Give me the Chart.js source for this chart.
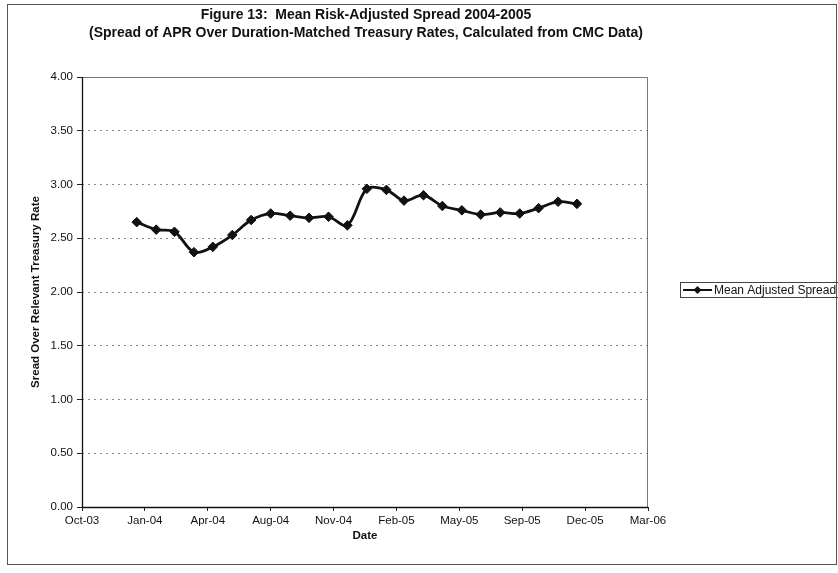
<!DOCTYPE html>
<html>
<head>
<meta charset="utf-8">
<script src="https://cdn.jsdelivr.net/npm/chart.js@4.4.1/dist/chart.umd.min.js"></script>
<style>
  html, body { margin: 0; padding: 0; background: #fff; }
  #wrap { position: relative; width: 838px; height: 573px; }
</style>
</head>
<body>
<div id="wrap"><canvas id="spreadChart" width="838" height="573"></canvas></div>
<script>
// Figure 13: mean risk-adjusted spread, one point per month 2004-2005
const months = ['2004-01', '2004-02', '2004-03', '2004-04', '2004-05', '2004-06',
                '2004-07', '2004-08', '2004-09', '2004-10', '2004-11', '2004-12',
                '2005-01', '2005-02', '2005-03', '2005-04', '2005-05', '2005-06',
                '2005-07', '2005-08', '2005-09', '2005-10', '2005-11', '2005-12'];
const meanSpread = [2.65, 2.58, 2.56, 2.37, 2.42, 2.53, 2.67, 2.73, 2.71, 2.69, 2.70, 2.62,
                    2.96, 2.95, 2.85, 2.90, 2.80, 2.76, 2.72, 2.74, 2.73, 2.78, 2.84, 2.82];
const seriesName = 'Mean Adjusted Spread';
const titleLines = ['Figure 13:  Mean Risk-Adjusted Spread 2004-2005',
                    '(Spread of APR Over Duration-Matched Treasury Rates, Calculated from CMC Data)'];
const xTitle = 'Date';
const yTitle = 'Sread Over Relevant Treasury Rate';
const monthNames = ['Jan', 'Feb', 'Mar', 'Apr', 'May', 'Jun', 'Jul', 'Aug', 'Sep', 'Oct', 'Nov', 'Dec'];
// date axis works like the Excel one: day serials, a tick every 100 days
const xMin = 37900, xMax = 38800, xStep = 100;
const yMin = 0, yMax = 4, yStep = 0.5;

const FONT = "'Liberation Sans', Arial, sans-serif";
const EXCEL_EPOCH = Date.UTC(1899, 11, 30);

function toSerial(ym) {
  const [y, m] = ym.split('-').map(Number);
  return Math.round((Date.UTC(y, m - 1, 1) - EXCEL_EPOCH) / 864e5);
}

function serialLabel(v) {
  const d = new Date(EXCEL_EPOCH + v * 864e5);
  return monthNames[d.getUTCMonth()] + '-' + String(d.getUTCFullYear()).slice(2);
}

// heading, plot frame, legend box and outer border, drawn like the Excel original
const excelDecor = {
  id: 'excelDecor',
  beforeDatasetsDraw(chart) {
    const { ctx, chartArea: a } = chart;
    ctx.save();
    ctx.lineWidth = 1;
    ctx.strokeStyle = '#777';
    ctx.beginPath();
    ctx.moveTo(a.left, a.top + 0.5);
    ctx.lineTo(a.right - 0.5, a.top + 0.5);
    ctx.lineTo(a.right - 0.5, a.bottom);
    ctx.stroke();
    ctx.strokeStyle = '#111';
    ctx.lineWidth = 1.3;
    ctx.beginPath();
    ctx.moveTo(a.left + 0.5, a.top);
    ctx.lineTo(a.left + 0.5, a.bottom + 0.5);
    ctx.lineTo(a.right, a.bottom + 0.5);
    ctx.stroke();
    ctx.restore();
  },
  afterDraw(chart) {
    const { ctx, chartArea: a } = chart;
    const ds = chart.data.datasets[0];
    ctx.save();
    // outer chart border
    ctx.strokeStyle = '#555';
    ctx.lineWidth = 1;
    ctx.strokeRect(7.5, 4.5, 829, 560);

    // heading
    ctx.fillStyle = '#111';
    ctx.textAlign = 'center';
    ctx.textBaseline = 'middle';
    ctx.font = 'bold 14px ' + FONT;
    const cx = (a.left + a.right) / 2 + 1;
    ctx.fillText(titleLines[0], cx, 15);
    ctx.fillText(titleLines[1], cx, 33);

    // legend
    const lx = 680, ly = 290;
    ctx.strokeStyle = '#444';
    ctx.lineWidth = 1;
    ctx.strokeRect(lx + 0.5, ly - 7.5, 160, 15);
    ctx.strokeStyle = ds.borderColor;
    ctx.lineWidth = 2;
    ctx.beginPath();
    ctx.moveTo(lx + 3, ly);
    ctx.lineTo(lx + 32, ly);
    ctx.stroke();
    ctx.fillStyle = ds.borderColor;
    ctx.beginPath();
    ctx.moveTo(lx + 17.5, ly - 4);
    ctx.lineTo(lx + 21.5, ly);
    ctx.lineTo(lx + 17.5, ly + 4);
    ctx.lineTo(lx + 13.5, ly);
    ctx.closePath();
    ctx.fill();
    ctx.fillStyle = '#111';
    ctx.textAlign = 'left';
    ctx.font = '12px ' + FONT;
    ctx.fillText(ds.label, lx + 34, ly + 0.5);
    ctx.restore();
  }
};

const ctx = document.getElementById('spreadChart').getContext('2d');
new Chart(ctx, {
  type: 'line',
  data: {
    datasets: [{
      label: seriesName,
      data: months.map((m, i) => ({ x: toSerial(m), y: meanSpread[i] })),
      borderColor: '#111',
      backgroundColor: '#111',
      borderWidth: 2.8,
      tension: 0.33,
      fill: false,
      pointStyle: 'rectRot',
      pointRadius: 4.8,
      pointBackgroundColor: '#111',
      pointBorderColor: '#111',
      pointBorderWidth: 1
    }]
  },
  options: {
    responsive: false,
    animation: false,
    devicePixelRatio: 1,
    layout: { padding: { top: 77, right: 190, left: 25, bottom: 0 } },
    plugins: {
      legend: { display: false },
      title: { display: false },
      tooltip: { enabled: false }
    },
    scales: {
      x: {
        type: 'linear',
        min: xMin,
        max: xMax,
        afterFit: s => { s.height = 66; },
        ticks: {
          stepSize: xStep,
          autoSkip: false,
          maxRotation: 0,
          padding: 3,
          color: '#111',
          font: { family: FONT, size: 11.5 },
          callback: v => serialLabel(v)
        },
        grid: { drawOnChartArea: false, tickLength: 4, tickColor: '#222', color: '#222' },
        border: { display: false },
        title: {
          display: true,
          text: xTitle,
          color: '#111',
          font: { family: FONT, size: 11.5, weight: 'bold' },
          padding: { top: 0, bottom: 30 }
        }
      },
      y: {
        min: yMin,
        max: yMax,
        afterFit: s => { s.width = 57; },
        ticks: {
          stepSize: yStep,
          padding: 4,
          color: '#111',
          font: { family: FONT, size: 11.5 },
          callback: v => v.toFixed(2)
        },
        grid: {
          tickLength: 5,
          tickColor: '#222',
          lineWidth: 1,
          color: c => (c.tick && c.tick.value > yMin && c.tick.value < yMax) ? '#8a8a8a' : 'rgba(0,0,0,0)'
        },
        border: { display: false, dash: [2, 4] },
        title: {
          display: true,
          text: yTitle,
          color: '#111',
          font: { family: FONT, size: 11.5, weight: 'bold' },
          padding: { top: 4, bottom: 0 }
        }
      }
    }
  },
  plugins: [excelDecor]
});
</script>
</body>
</html>
